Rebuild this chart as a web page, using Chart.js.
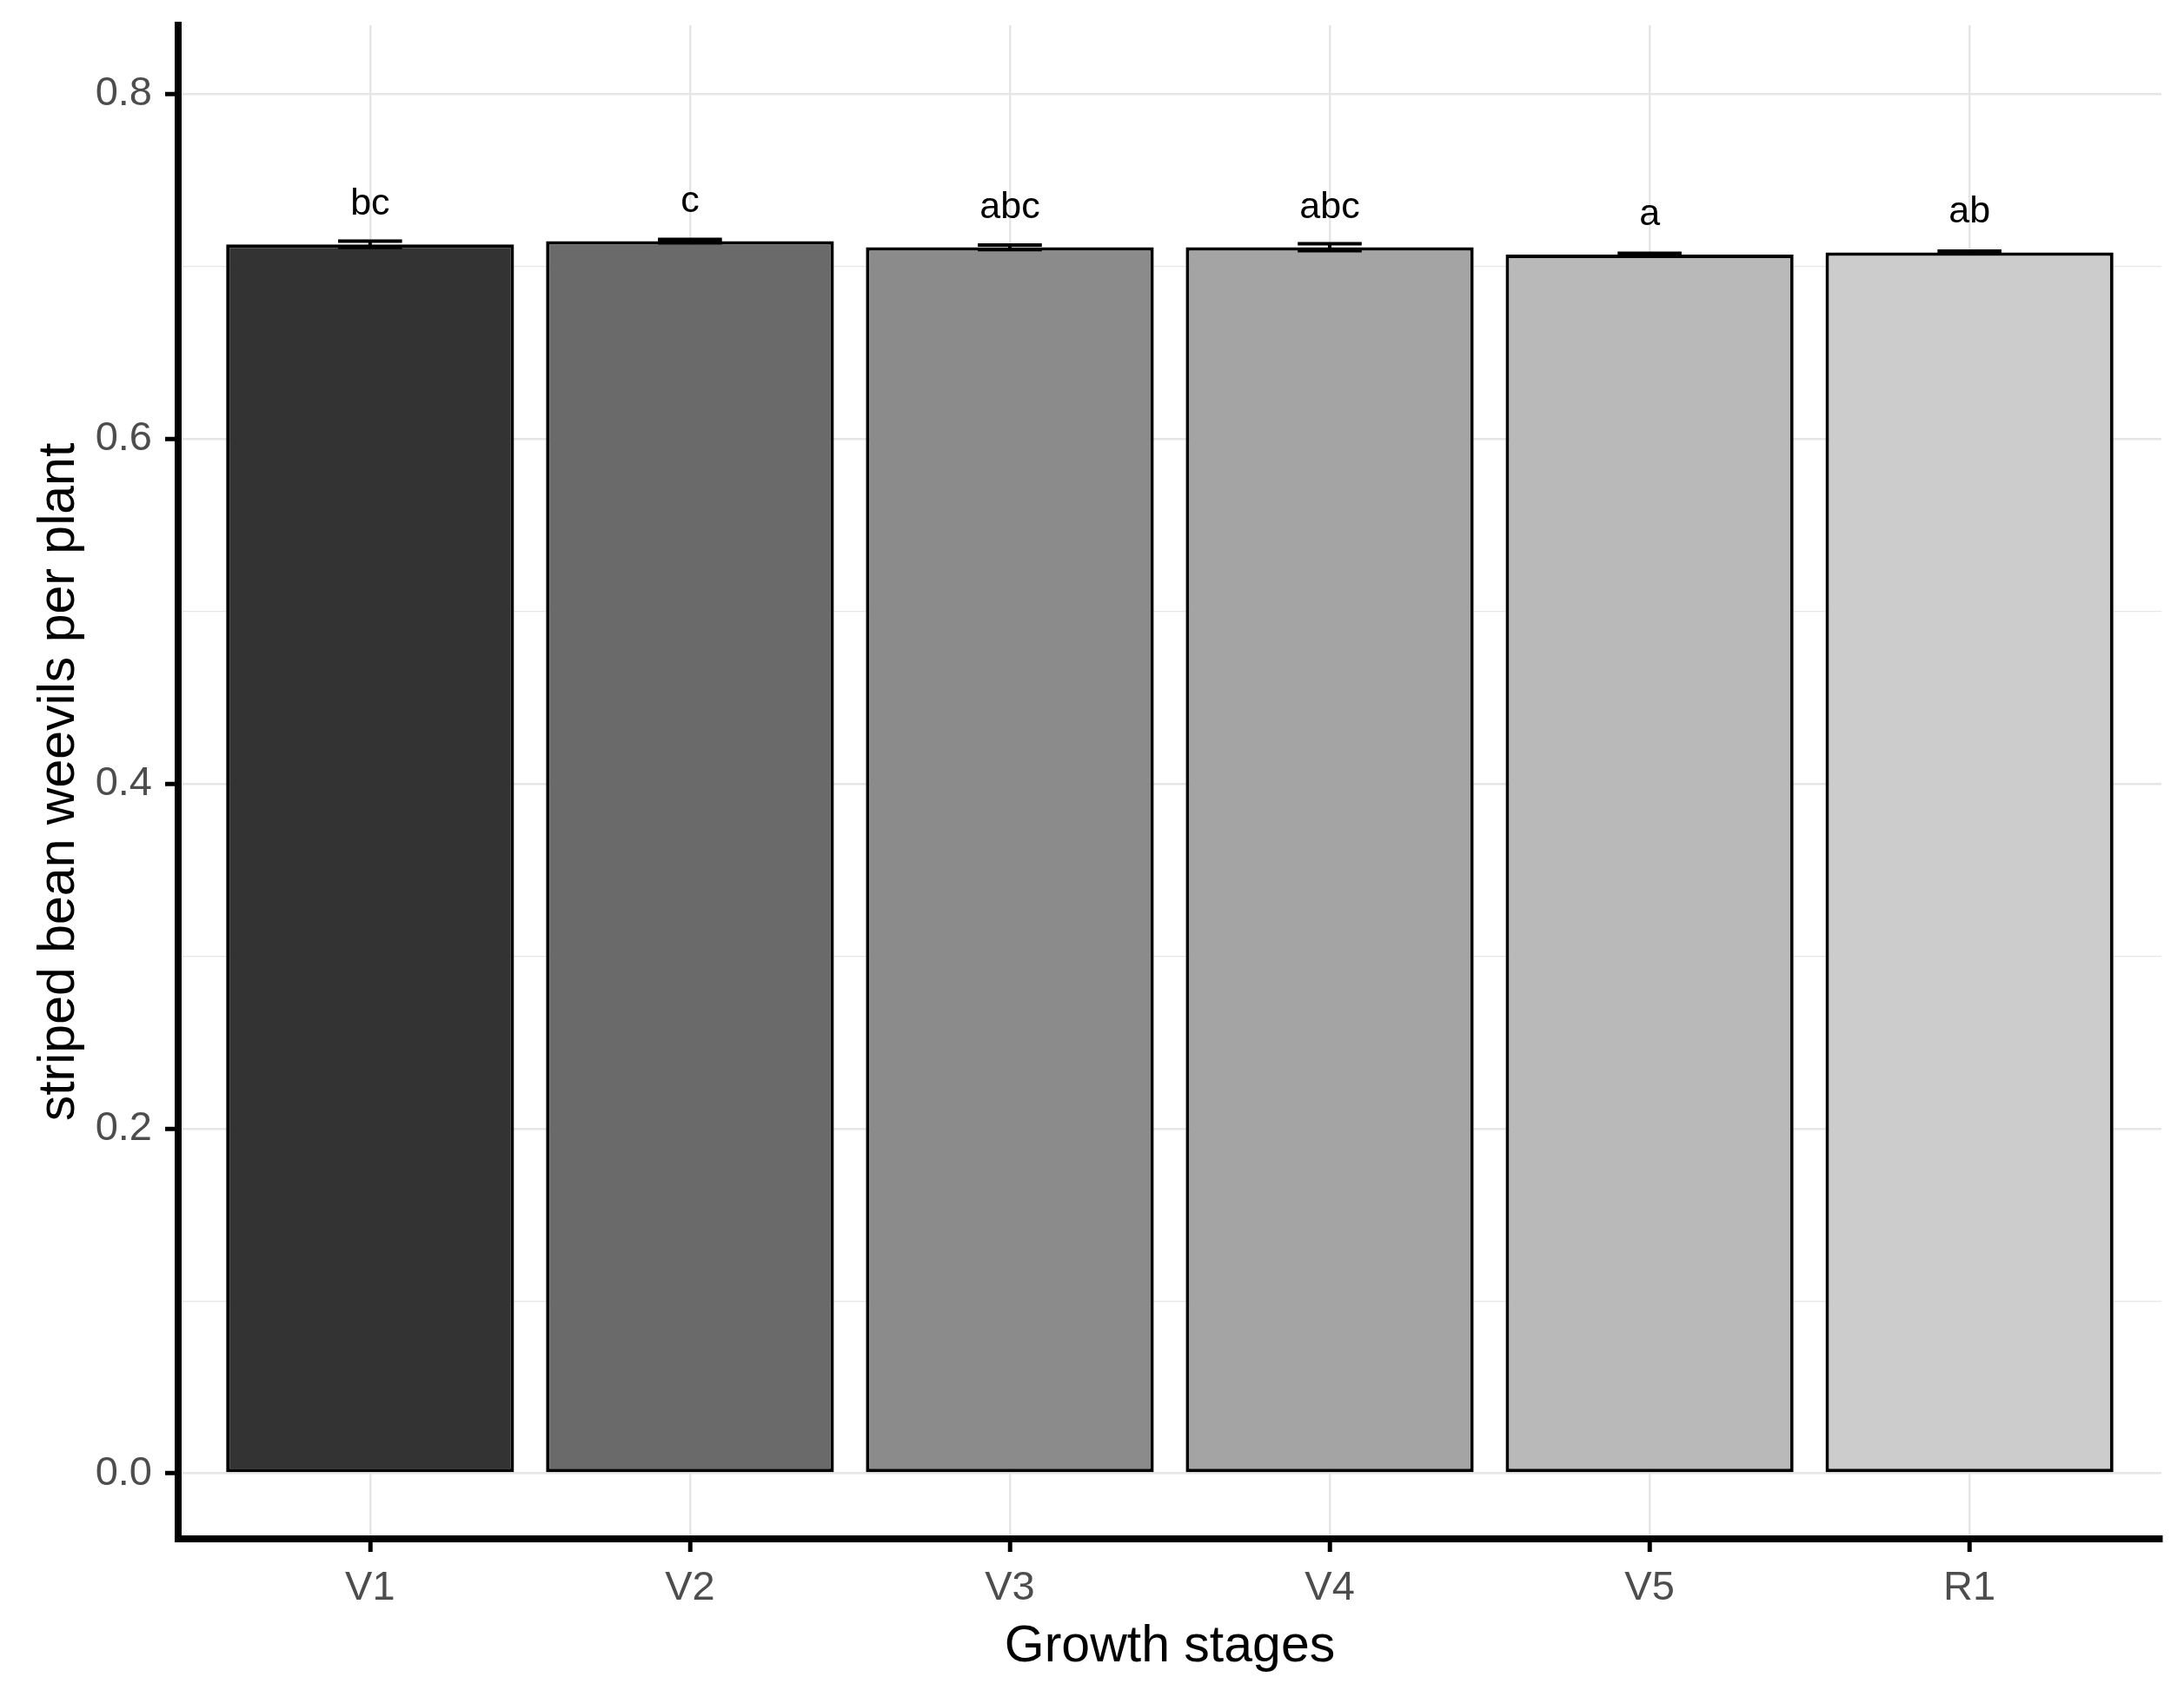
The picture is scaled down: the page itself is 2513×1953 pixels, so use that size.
<!DOCTYPE html>
<html>
<head>
<meta charset="utf-8">
<title>striped bean weevils per plant</title>
<script src="https://cdn.jsdelivr.net/npm/chart.js@4.4.1/dist/chart.umd.min.js"></script>
<style>
  html, body { margin: 0; padding: 0; background: #ffffff; }
  #wrap { width: 2513px; height: 1953px; }
</style>
</head>
<body>
<div id="wrap"><canvas id="chart" width="2513" height="1953"></canvas></div>
<script>
// ===== data =====
const stages = ["V1", "V2", "V3", "V4", "V5", "R1"];
const means = [0.7129, 0.7147, 0.7112, 0.7112, 0.7069, 0.7082];
const stdErr = [0.0018, 0.0010, 0.0013, 0.0020, 0.0008, 0.0008];
const letters = ["bc", "c", "abc", "abc", "a", "ab"];
const fills = ["#333333", "#6a6a6a", "#8b8b8b", "#a4a4a4", "#b9b9b9", "#cccccc"];
const yMajor = [0, 0.2, 0.4, 0.6, 0.8];
const yMinor = [0.1, 0.3, 0.5, 0.7];

const FONT = "'Liberation Sans', Arial, Helvetica, sans-serif";
Chart.defaults.font.family = FONT;

const isMajor = v => yMajor.some(m => Math.abs(m - v) < 1e-9);

// error bars + significance letters, drawn through the chart scales
const errorBarPlugin = {
  id: "errorBars",
  afterDatasetsDraw(chart) {
    const { ctx, scales: { x, y } } = chart;
    ctx.save();
    ctx.strokeStyle = "#000000";
    ctx.lineWidth = 4;
    means.forEach((m, i) => {
      const xc = x.getPixelForValue(i + 1);
      const xl = x.getPixelForValue(i + 1 - 0.1);
      const xr = x.getPixelForValue(i + 1 + 0.1);
      const yt = y.getPixelForValue(m + stdErr[i]);
      const yb = y.getPixelForValue(m - stdErr[i]);
      ctx.beginPath();
      ctx.moveTo(xl, yt); ctx.lineTo(xr, yt);
      ctx.moveTo(xc, yt); ctx.lineTo(xc, yb);
      ctx.moveTo(xl, yb); ctx.lineTo(xr, yb);
      ctx.stroke();
    });
    ctx.fillStyle = "#000000";
    ctx.font = "43px " + FONT;
    ctx.textAlign = "center";
    ctx.textBaseline = "alphabetic";
    letters.forEach((t, i) => {
      ctx.fillText(t, x.getPixelForValue(i + 1), y.getPixelForValue(means[i]) - 34);
    });
    ctx.restore();
  }
};

const ctx = document.getElementById("chart").getContext("2d");
new Chart(ctx, {
  type: "bar",
  data: {
    datasets: [{
      data: means.map((v, i) => ({ x: i + 1, y: v })),
      backgroundColor: fills,
      borderColor: "#000000",
      borderWidth: 4,
      borderSkipped: false,
      categoryPercentage: 0.9,
      barPercentage: 1.0
    }]
  },
  options: {
    responsive: false,
    devicePixelRatio: 1,
    animation: false,
    layout: { padding: { left: 0, top: 29, right: 26, bottom: 0 } },
    plugins: { legend: { display: false }, tooltip: { enabled: false } },
    scales: {
      x: {
        type: "linear",
        offset: false,
        min: 0.4,
        max: 6.6,
        afterBuildTicks: s => { s.ticks = stages.map((_, i) => ({ value: i + 1 })); },
        afterFit: s => { s.height = 182; s.paddingLeft = 0; s.paddingRight = 0; },
        ticks: {
          callback: v => stages[v - 1],
          color: "#4d4d4d",
          font: { size: 47 },
          padding: 14,
          maxRotation: 0
        },
        grid: { offset: false, color: "#e6e6e6", lineWidth: 2.5, tickColor: "#000000", tickLength: 15, tickWidth: 5 },
        border: { display: true, color: "#000000", width: 8 },
        title: {
          display: true,
          text: "Growth stages",
          color: "#000000",
          font: { size: 59 },
          padding: { top: 0, bottom: 22 }
        }
      },
      y: {
        min: -0.038,
        max: 0.84,
        afterBuildTicks: s => {
          s.ticks = yMajor.concat(yMinor).sort((a, b) => a - b).map(v => ({ value: v }));
        },
        afterFit: s => { s.width = 205; s.paddingTop = 0; s.paddingBottom = 0; },
        ticks: {
          callback: v => isMajor(v) ? v.toFixed(1) : "",
          color: "#4d4d4d",
          font: { size: 47 },
          padding: 15
        },
        grid: {
          color: "#e6e6e6",
          lineWidth: c => isMajor(c.tick.value) ? 2.5 : 1.3,
          tickColor: c => isMajor(c.tick.value) ? "#000000" : "rgba(0,0,0,0)",
          tickLength: 15,
          tickWidth: 5
        },
        border: { display: true, color: "#000000", width: 8 },
        title: {
          display: true,
          text: "striped bean weevils per plant",
          color: "#000000",
          font: { size: 59 },
          padding: { top: 33, bottom: 0 }
        }
      }
    }
  },
  plugins: [errorBarPlugin]
});
</script>
</body>
</html>
